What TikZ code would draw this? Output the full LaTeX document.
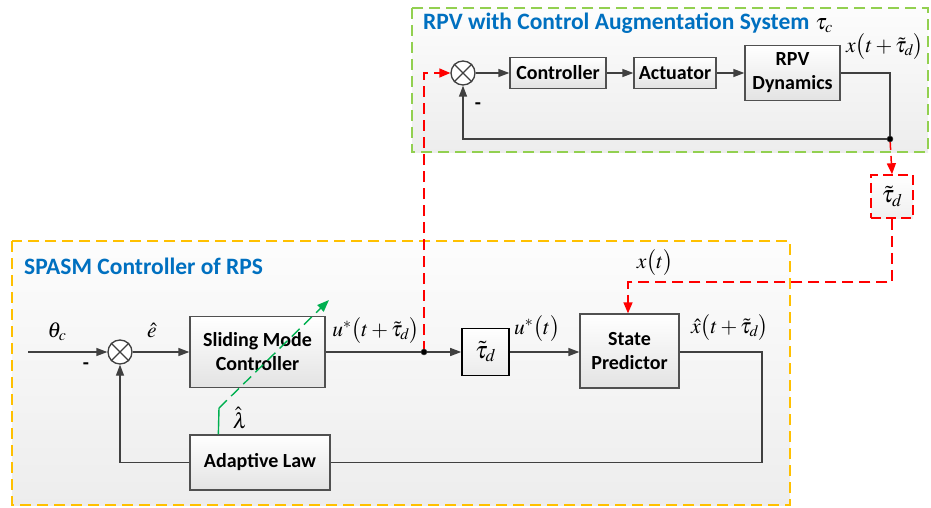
\documentclass[tikz,border=0pt]{standalone}
\usepackage{mathptmx}
\usepackage{fontspec}
\setsansfont{Carlito}
\usetikzlibrary{arrows.meta,calc}
\definecolor{ln}{HTML}{404040}
\definecolor{bx}{HTML}{505050}
\definecolor{ttl}{HTML}{0070C0}
\definecolor{grn}{HTML}{92D050}
\definecolor{ylw}{HTML}{FFC000}
\definecolor{rd}{HTML}{FF0000}
\definecolor{dg}{HTML}{00B050}
\tikzset{
  blk/.style={draw=bx, line width=1.3pt, top color=white, bottom color=black!11,
    font=\sffamily\bfseries\fontsize{20}{24}\selectfont, align=center, inner sep=0pt},
  sumj/.style={circle, draw=ln, line width=1.3pt, fill=white, minimum size=24pt, inner sep=0pt},
  wire/.style={draw=ln, line width=1.3pt},
  arr/.style={wire, -{Triangle[length=11pt,width=8pt]}},
  rdash/.style={draw=rd, line width=1.5pt, dash pattern=on 11pt off 6pt},
  rarr/.style={rdash, -{Triangle[length=11pt,width=9pt]}},
  region/.style={line width=1.4pt, dash pattern=on 11pt off 6pt, top color=black!1, bottom color=black!7},
  ttlfont/.style={font=\sffamily\bfseries\fontsize{23.5}{27}\selectfont, text=ttl, anchor=west, inner sep=0pt},
  mlbl/.style={font=\fontsize{21.5}{26}\selectfont, inner sep=0pt},
  dot/.style={circle, fill=black, draw=ln, minimum size=6pt, inner sep=0pt},
  minus/.style={font=\sffamily\bfseries\fontsize{20}{22}\selectfont, inner sep=0pt}
}
\begin{document}
\begin{tikzpicture}[x=1pt,y=-1pt]
\useasboundingbox (0,0) rectangle (931,508);
% regions
\path[region, draw=ylw] (12,241) rectangle (790,505);
\path[region, draw=grn] (412,8) rectangle (928,152);
\node[ttlfont] (t1) at (423,23) {RPV with Control Augmentation System\hspace{6pt}{\color{black}\fontsize{22}{26}\selectfont$\tau_c$}};
\node[ttlfont] (t2) at (24,266) {SPASM Controller of RPS};

% top loop
\node[sumj] (s2) at (463,73) {};
\draw[wire] (s2.45) -- (s2.225) (s2.135) -- (s2.315);
\node[blk, minimum width=96pt, minimum height=31pt] (ctrl) at (558,73) {Controller};
\node[blk, minimum width=82pt, minimum height=31pt] (act) at (675,73) {Actuator};
\node[blk, minimum width=95pt, minimum height=55pt] (rpv) at (792.5,73) {RPV\\Dynamics};
\coordinate (dtop) at (890,139);
\draw[arr] (s2.east) -- (ctrl.west);
\draw[arr] (ctrl.east) -- (act.west);
\draw[arr] (act.east) -- (rpv.west);
\draw[arr] (rpv.east) -| (dtop) -| (s2.south);
\node[minus] (m2) at (478,106) {-};
\node[mlbl] (lx) at (885,47) {$x\bigl(t+\tilde\tau_d\bigr)$};

% delay box (red)
\node[draw=rd, line width=1.5pt, dash pattern=on 10pt off 5pt, top color=white, bottom color=black!6,
  minimum width=42pt, minimum height=43pt, font=\fontsize{24}{26}\selectfont, inner sep=0pt] (tdr) at (892,196.5) {$\tilde\tau_d$};

% bottom loop
\coordinate (in) at (28,352);
\node[sumj] (s1) at (120,352) {};
\draw[wire] (s1.45) -- (s1.225) (s1.135) -- (s1.315);
\node[blk, minimum width=135pt, minimum height=71pt] (smc) at (257.5,352) {Sliding Mode\\Controller};
\coordinate (dbot) at (424,352);
\node[draw=black, line width=1.6pt, top color=white, bottom color=black!8, minimum width=47pt, minimum height=47pt,
  font=\fontsize{24}{26}\selectfont, inner sep=0pt] (td) at (485.5,352) {$\tilde\tau_d$};
\node[blk, minimum width=99pt, minimum height=74pt] (sp) at (629.5,351) {State\\Predictor};
\node[blk, minimum width=140pt, minimum height=55pt] (al) at (260,462.5) {Adaptive Law};
\coordinate (rc) at (762,462.5);
\coordinate (xc) at (628,282);

\draw[arr] (in) -- (s1.west);
\draw[arr] (s1.east) -- (smc.west);
\draw[wire] (smc.east) -- (dbot);
\draw[arr] (dbot) -- (td.west);
\draw[arr] (td.east) -- (sp.west |- td.east);
\draw[wire] (sp.east |- dbot) -| (rc) -- (al.east);
\draw[arr] (al.west) -| (s1.south);

% red dashed links
\draw[rarr] (dbot) |- (s2.west);
\draw[rarr] (dtop) -- (tdr.north);
\draw[rarr] (tdr.south) |- (xc) -- (sp.north -| xc);
\node[dot] (d1) at (dbot) {};
\node[dot] (d2) at (dtop) {};

% green adaptation arrow
\coordinate (gs) at ($(al.north west)+(29,0)$);
\coordinate (gk) at (219,408);
\draw[draw=dg, line width=1.4pt] (gs) -- (gk);
\draw[draw=dg, line width=1.4pt, dash pattern=on 11pt off 6pt, -{Triangle[length=12pt,width=9pt]}] (gk) -- (329,300);

% labels
\node[mlbl] (lth) at (57,332) {$\theta_c$};
\node[mlbl] (le) at (152,330) {$\hat e$};
\node[minus] (m1) at (86,366) {-};
\node[mlbl] (lu1) at (376,331) {$u^*\bigl(t+\tilde\tau_d\bigr)$};
\node[mlbl] (lu2) at (537,329) {$u^*\bigl(t\bigr)$};
\node[mlbl] (lxh) at (730,328) {$\hat x\bigl(t+\tilde\tau_d\bigr)$};
\node[mlbl] (lxt) at (655,263) {$x\bigl(t\bigr)$};
\node[mlbl] (llam) at (240,418) {$\hat\lambda$};
\end{tikzpicture}
\end{document}
